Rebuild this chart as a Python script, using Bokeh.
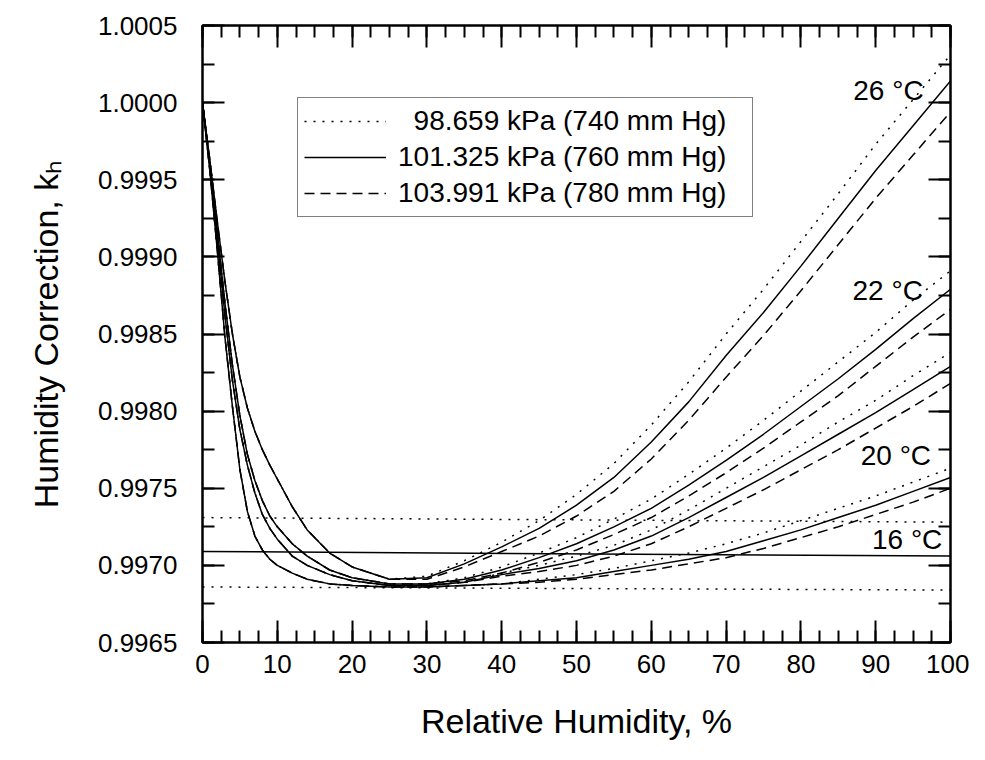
import math
from bokeh.plotting import figure
from bokeh.models import (LinearAxis, SingleIntervalTicker, NumeralTickFormatter,
                          Range1d, Legend, LegendItem, Label)
from bokeh.embed import file_html
from bokeh.resources import INLINE

FONT = "Liberation Sans"

# ---------------- data ----------------
rh = [0, 1, 2, 3, 4, 5, 6, 7, 8, 9, 10, 12, 14, 17, 20, 25, 30, 35, 40, 45,
      50, 55, 60, 65, 70, 75, 80, 85, 90, 95, 100]

k16_740 = [1.00000, 0.99955, 0.99903, 0.99848, 0.99803, 0.99762, 0.99735, 0.99719, 0.99710, 0.99704, 0.99700,
           0.99695, 0.99691, 0.99688, 0.99687, 0.99686, 0.99686, 0.99687, 0.99688, 0.99691,
           0.99694, 0.99698, 0.99703, 0.99708, 0.99714, 0.99721, 0.99729, 0.99737, 0.99745, 0.99754, 0.99763]
k16_760 = [1.00000, 0.99955, 0.99903, 0.99848, 0.99803, 0.99762, 0.99735, 0.99719, 0.99710, 0.99704, 0.99700,
           0.99695, 0.99691, 0.99688, 0.99687, 0.99686, 0.99686, 0.99687, 0.99688, 0.99690,
           0.99692, 0.99696, 0.99700, 0.99704, 0.99709, 0.99716, 0.99723, 0.99731, 0.99739, 0.99748, 0.99757]
k16_780 = [1.00000, 0.99955, 0.99903, 0.99848, 0.99803, 0.99762, 0.99735, 0.99719, 0.99710, 0.99704, 0.99700,
           0.99695, 0.99691, 0.99688, 0.99687, 0.99686, 0.99686, 0.99687, 0.99688, 0.99689,
           0.99691, 0.99694, 0.99697, 0.99701, 0.99705, 0.99711, 0.99718, 0.99725, 0.99733, 0.99741, 0.99750]

k20_740 = [1.00000, 0.99958, 0.99910, 0.99862, 0.99820, 0.99788, 0.99765, 0.99747, 0.99733, 0.99724, 0.99717,
           0.99706, 0.99700, 0.99694, 0.99690, 0.99687, 0.99687, 0.99689, 0.99695, 0.99700,
           0.99706, 0.99713, 0.99723, 0.99736, 0.99750, 0.99764, 0.99778, 0.99793, 0.99807, 0.99823, 0.99838]
k20_760 = [1.00000, 0.99958, 0.99910, 0.99862, 0.99820, 0.99788, 0.99765, 0.99747, 0.99733, 0.99724, 0.99717,
           0.99706, 0.99700, 0.99694, 0.99690, 0.99687, 0.99687, 0.99689, 0.99694, 0.99698,
           0.99703, 0.99710, 0.99719, 0.99731, 0.99744, 0.99757, 0.99771, 0.99785, 0.99799, 0.99814, 0.99829]
k20_780 = [1.00000, 0.99958, 0.99910, 0.99862, 0.99820, 0.99788, 0.99765, 0.99747, 0.99733, 0.99724, 0.99717,
           0.99706, 0.99700, 0.99694, 0.99690, 0.99687, 0.99687, 0.99689, 0.99693, 0.99696,
           0.99700, 0.99706, 0.99714, 0.99725, 0.99737, 0.99749, 0.99762, 0.99775, 0.99789, 0.99803, 0.99818]

k22_740 = [1.00000, 0.99960, 0.99915, 0.99870, 0.99830, 0.99797, 0.99772, 0.99755, 0.99742, 0.99732, 0.99725,
           0.99714, 0.99706, 0.99697, 0.99692, 0.99688, 0.99688, 0.99692, 0.99699, 0.99708,
           0.99718, 0.99730, 0.99743, 0.99759, 0.99776, 0.99794, 0.99813, 0.99832, 0.99851, 0.99872, 0.99891]
k22_760 = [1.00000, 0.99960, 0.99915, 0.99870, 0.99830, 0.99797, 0.99772, 0.99755, 0.99742, 0.99732, 0.99725,
           0.99714, 0.99706, 0.99697, 0.99692, 0.99688, 0.99688, 0.99691, 0.99697, 0.99705,
           0.99714, 0.99725, 0.99737, 0.99752, 0.99768, 0.99785, 0.99803, 0.99821, 0.99840, 0.99860, 0.99879]
k22_780 = [1.00000, 0.99960, 0.99915, 0.99870, 0.99830, 0.99797, 0.99772, 0.99755, 0.99742, 0.99732, 0.99725,
           0.99714, 0.99706, 0.99697, 0.99692, 0.99688, 0.99688, 0.99690, 0.99695, 0.99702,
           0.99710, 0.99720, 0.99731, 0.99745, 0.99760, 0.99776, 0.99793, 0.99810, 0.99829, 0.99848, 0.99866]

k26_740 = [1.00000, 0.99962, 0.99922, 0.99884, 0.99850, 0.99822, 0.99802, 0.99787, 0.99775, 0.99765, 0.99756,
           0.99738, 0.99723, 0.99708, 0.99699, 0.99691, 0.99693, 0.99703, 0.99715, 0.99729,
           0.99746, 0.99766, 0.99791, 0.99819, 0.99850, 0.99879, 0.99910, 0.99941, 0.99973, 1.00002, 1.00031]
k26_760 = [1.00000, 0.99962, 0.99922, 0.99884, 0.99850, 0.99822, 0.99802, 0.99787, 0.99775, 0.99765, 0.99756,
           0.99738, 0.99723, 0.99708, 0.99699, 0.99691, 0.99692, 0.99701, 0.99712, 0.99724,
           0.99739, 0.99757, 0.99780, 0.99806, 0.99836, 0.99864, 0.99894, 0.99925, 0.99956, 0.99985, 1.00014]
k26_780 = [1.00000, 0.99962, 0.99922, 0.99884, 0.99850, 0.99822, 0.99802, 0.99787, 0.99775, 0.99765, 0.99756,
           0.99738, 0.99723, 0.99708, 0.99699, 0.99691, 0.99691, 0.99699, 0.99709, 0.99719,
           0.99732, 0.99748, 0.99769, 0.99794, 0.99822, 0.99849, 0.99878, 0.99908, 0.99938, 0.99966, 0.99994]

# horizontal reference lines
ref_rh = [0, 100]
ref_upper_740 = [0.99731, 0.99728]
ref_mid_760 = [0.99709, 0.99706]
ref_lower_740 = [0.99686, 0.99684]

legend_labels = ["\u200798.659 kPa (740 mm Hg)",
                 "101.325 kPa (760 mm Hg)",
                 "103.991 kPa (780 mm Hg)"]

temp_labels = ["26 \u00b0C", "22 \u00b0C", "20 \u00b0C", "16 \u00b0C"]
temp_label_x = [87.0, 86.9, 88.0, 89.5]
temp_label_y = [1.00008, 0.99878, 0.99771, 0.99717]

X0, X1 = 0, 100
Y0, Y1 = 0.9965, 1.0005

# ---------------- layout constants ----------------
W, H = 969, 744
MB_L, MB_R, MB_T, MB_B = 202, 19, 25, 102
FRAME_H = H - MB_T - MB_B

p = figure(width=W, height=H, output_backend="svg", toolbar_location=None,
           x_range=Range1d(X0, X1), y_range=Range1d(Y0, Y1),
           min_border_left=MB_L, min_border_right=MB_R, min_border_top=MB_T,
           min_border_bottom=MB_B, background_fill_color="white",
           border_fill_color="white")
p.xgrid.visible = False
p.ygrid.visible = False
p.outline_line_color = "black"
p.outline_line_width = 2

DOT = "2 7"
DASH = "10 6"
LW = 1.5

# reference lines
p.line(ref_rh, ref_upper_740, line_color="black", line_width=LW, line_dash=DOT)
p.line(ref_rh, ref_mid_760, line_color="black", line_width=LW)
p.line(ref_rh, ref_lower_740, line_color="black", line_width=LW, line_dash=DOT)

leg_r = {}
for k740, k760, k780 in [(k16_740, k16_760, k16_780), (k20_740, k20_760, k20_780),
                         (k22_740, k22_760, k22_780), (k26_740, k26_760, k26_780)]:
    r1 = p.line(rh, k740, line_color="black", line_width=LW, line_dash=DOT)
    r2 = p.line(rh, k760, line_color="black", line_width=LW)
    r3 = p.line(rh, k780, line_color="black", line_width=LW, line_dash=DASH)
    leg_r = {"a": r1, "b": r2, "c": r3}

LEG_TOP = 99 - MB_T   # px below frame top
LEG_H = 118
legend = Legend(items=[LegendItem(label=legend_labels[0], renderers=[leg_r["a"]]),
                       LegendItem(label=legend_labels[1], renderers=[leg_r["b"]]),
                       LegendItem(label=legend_labels[2], renderers=[leg_r["c"]])],
                location=(95, FRAME_H - LEG_TOP - LEG_H), orientation="vertical",
                border_line_color="black", border_line_width=1.5,
                background_fill_color="white", background_fill_alpha=1.0,
                padding=6, spacing=2, margin=0,
                glyph_width=82, glyph_height=34, label_height=34, label_standoff=12,
                label_width=348,
                label_text_font=FONT, label_text_font_size="28px",
                label_text_color="black")
p.add_layout(legend, "center")

# temperature labels
for t, tx, ty in zip(temp_labels, temp_label_x, temp_label_y):
    p.add_layout(Label(x=tx, y=ty, text=t, text_font=FONT, text_font_size="28px",
                       text_baseline="middle", text_align="left", text_color="black"))

# ---------------- axes ----------------
def style_axis(ax, labels=True):
    ax.axis_line_color = "black"
    ax.axis_line_width = 2
    ax.major_tick_in = 22
    ax.major_tick_out = 0
    ax.minor_tick_in = 12
    ax.minor_tick_out = 0
    ax.major_tick_line_width = 2
    ax.minor_tick_line_width = 2
    ax.major_tick_line_color = "black"
    ax.minor_tick_line_color = "black"
    ax.major_label_text_font = FONT
    ax.major_label_text_color = "black"
    if labels:
        ax.major_label_text_font_size = "26px"
    else:
        ax.major_label_text_font_size = "0px"
        ax.major_label_standoff = 0

p.xaxis.ticker = SingleIntervalTicker(interval=10, num_minor_ticks=4)
p.yaxis.ticker = SingleIntervalTicker(interval=0.0005, num_minor_ticks=2)
p.yaxis.formatter = NumeralTickFormatter(format="0.0000")
style_axis(p.xaxis[0])
style_axis(p.yaxis[0])
p.xaxis.major_label_standoff = 12
p.yaxis.major_label_standoff = 25
for ax, lab, so in [(p.xaxis[0], "Relative Humidity, %", 26),
                    (p.yaxis[0], "Humidity Correction, k\u2095", 30)]:
    ax.axis_label = lab
    ax.axis_label_text_font = FONT
    ax.axis_label_text_font_size = "34px"
    ax.axis_label_text_font_style = "normal"
    ax.axis_label_text_color = "black"
    ax.axis_label_standoff = so

top = LinearAxis(ticker=SingleIntervalTicker(interval=10, num_minor_ticks=4))
style_axis(top, labels=False)
p.add_layout(top, "above")
right = LinearAxis(ticker=SingleIntervalTicker(interval=0.0005, num_minor_ticks=2))
style_axis(right, labels=False)
p.add_layout(right, "right")

open("out.html", "w").write(file_html(p, INLINE))
